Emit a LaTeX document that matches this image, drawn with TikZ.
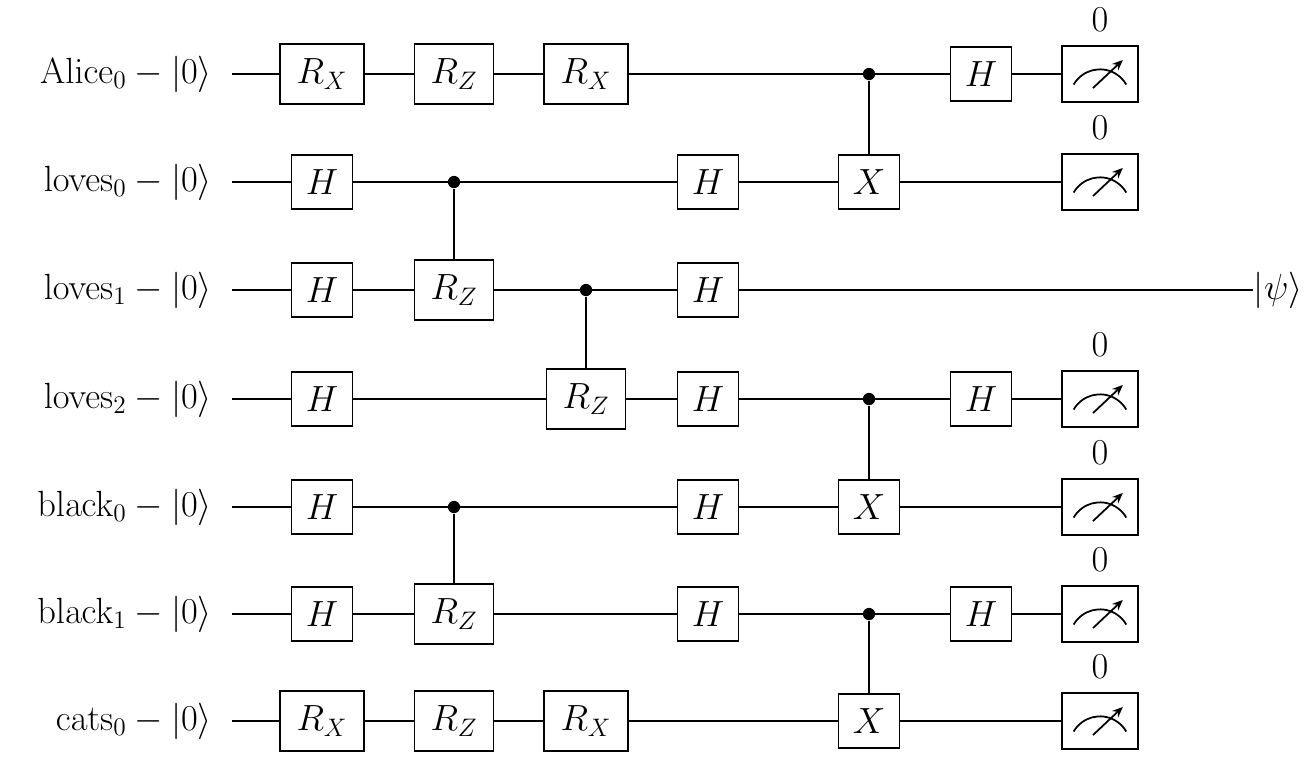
\documentclass[tikz,border=0pt]{standalone}
\usetikzlibrary{arrows.meta}
\begin{document}
\begin{tikzpicture}[x=0.02cm,y=-0.02cm,line width=1pt,
  every node/.style={font=\fontsize{19.5}{23}\selectfont},
  gate/.style={draw,fill=white,minimum width=34.6pt,minimum height=31pt,inner sep=0pt},
  gx/.style={gate,minimum width=48pt,minimum height=34pt},
  gz/.style={gate,minimum width=45pt,minimum height=34pt},
  meter/.style={draw,fill=white,minimum width=43pt,minimum height=32pt,inner sep=0pt},
  ctrl/.style={circle,fill=black,inner sep=0pt,minimum size=7pt},
  lab/.style={anchor=east,inner sep=0pt}]
\useasboundingbox (0,0) rectangle (1305,772);
\foreach \n/\y/\t in {a/74/Alice_0,l0/182/loves_0,l1/290/loves_1,l2/399/loves_2,b0/507/black_0,b1/614/black_1,c0/721/cats_0}{
  \node[lab] (lab\n) at (213,\y) {$\mathrm{\t}-|0\rangle$};
  \coordinate (s\n) at (232,\y);
}
% wires
\foreach \n in {a,l0,l2,b0,b1,c0}{\draw (s\n) -- ++(830,0) coordinate (e\n);}
\node[anchor=west,inner sep=0pt] (psi) at (1253,290) {$|\psi\rangle$};
\draw (sl1) -- (psi.west);
% controls
\node[ctrl] (k1) at (869,74) {};
\node[ctrl] (k2) at (454,182) {};
\node[ctrl] (k3) at (586,290) {};
\node[ctrl] (k4) at (869,399) {};
\node[ctrl] (k5) at (454,507) {};
\node[ctrl] (k6) at (869,614) {};
\draw (k1) -- (869,182);
\draw (k2) -- (454,290);
\draw (k3) -- (586,399);
\draw (k4) -- (869,507);
\draw (k5) -- (454,614);
\draw (k6) -- (869,721);
% Alice
\node[gx] (a1) at (322,74) {$R_X$};
\node[gz] (a2) at (454,74) {$R_Z$};
\node[gx] (a3) at (586,74) {$R_X$};
\node[gate] (a6) at (981,74) {$H$};
% loves0
\node[gate] (p1) at (322,182) {$H$};
\node[gate] (p4) at (708,182) {$H$};
\node[gate] (p5) at (869,182) {$X$};
% loves1
\node[gate] (q1) at (322,290) {$H$};
\node[gz] (q2) at (454,290) {$R_Z$};
\node[gate] (q4) at (708,290) {$H$};
% loves2
\node[gate] (r1) at (322,399) {$H$};
\node[gz] (r3) at (586,399) {$R_Z$};
\node[gate] (r4) at (708,399) {$H$};
\node[gate] (r6) at (981,399) {$H$};
% black0
\node[gate] (t1) at (322,507) {$H$};
\node[gate] (t4) at (708,507) {$H$};
\node[gate] (t5) at (869,507) {$X$};
% black1
\node[gate] (u1) at (322,614) {$H$};
\node[gz] (u2) at (454,614) {$R_Z$};
\node[gate] (u4) at (708,614) {$H$};
\node[gate] (u6) at (981,614) {$H$};
% cats0
\node[gx] (v1) at (322,721) {$R_X$};
\node[gz] (v2) at (454,721) {$R_Z$};
\node[gx] (v3) at (586,721) {$R_X$};
\node[gate] (v5) at (869,721) {$X$};
% meters
\foreach \n/\y in {a/74,l0/182,l2/399,b0/507,b1/614,c0/721}{
  \node[meter] (m\n) at (1100,\y) {};
  \draw ([shift={(-15pt,-6pt)}]m\n.center) arc[start angle=150,end angle=30,radius=17.3pt];
  \draw[-{Stealth[length=6pt,width=5pt]}] ([shift={(-4pt,-8pt)}]m\n.center) -- ([shift={(13pt,8pt)}]m\n.center);
  \node (z\n) at (1100,\y-54) {$0$};
}
\end{tikzpicture}
\end{document}
